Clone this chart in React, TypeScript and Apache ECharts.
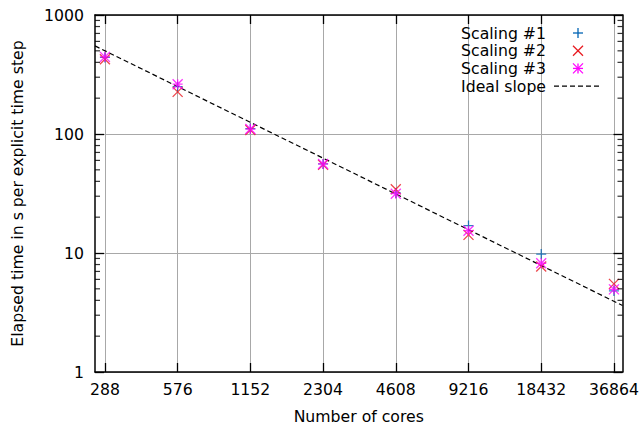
import React, { useEffect, useRef } from "react";
import * as echarts from "echarts";

const cores = [288, 576, 1152, 2304, 4608, 9216, 18432, 36864];
const scaling1 = [440, 250, 111, 56, 32, 17.0, 9.8, 4.8];
const scaling2 = [425, 226, 108, 55, 34.3, 14.2, 7.7, 5.5];
const scaling3 = [445, 262, 110, 56, 31.5, 15.4, 8.2, 4.95];
const idealCores = [262, 40000];
const idealTime = [550, 3.62];
const xTickCores = [288, 576, 1152, 2304, 4608, 9216, 18432, 36864];
const yTickValues = [1, 10, 100, 1000];
const yMinorTickValues = [2, 3, 4, 5, 6, 7, 8, 9, 20, 30, 40, 50, 60, 70, 80, 90, 200, 300, 400, 500, 600, 700, 800, 900];
const xRange = [262, 40000];
const yRange = [1, 1000];

const FONT = "DejaVu Sans";
const FS = 15.7;
const BLUE = "#0064b4";
const RED = "#e8191f";
const MAGENTA = "#ff00ff";

const lx = (c: number) => Math.log2(c / xTickCores[0]);
const ly = (v: number) => Math.log10(v);

const PLUS = "path://M5,0L5,10M0,5L10,5";
const CROSS = "path://M0,0L10,10M0,10L10,0";
const STAR = "path://M5,0L5,10M0,5L10,5M0,0L10,10M0,10L10,0";

export default function App() {
  const ref = useRef<HTMLDivElement>(null);
  useEffect(() => {
    if (!ref.current) return;
    const chart = echarts.init(ref.current, null, { renderer: "svg" });
    const xMajor = xTickCores.map(lx);
    const xMin = lx(xRange[0]);
    const xMax = lx(xRange[1]);
    const yMin = ly(yRange[0]);
    const yMax = ly(yRange[1]);
    const textStyle = { fontFamily: FONT, fontSize: FS, color: "#000" };
    const border = { show: true, onZero: false, lineStyle: { color: "#000", width: 1.5 } };

    const baseX = { type: "value" as const, min: xMin, max: xMax, offset: 0, axisLine: border };
    const baseY = { type: "value" as const, min: yMin, max: yMax, interval: 1, offset: 0, axisLine: border };

    const scatter = (name: string, vals: number[], symbol: string, color: string) => ({
      name,
      type: "scatter",
      xAxisIndex: 0,
      yAxisIndex: 0,
      symbol,
      symbolSize: 10,
      itemStyle: { color: "rgba(0,0,0,0)", borderColor: color, borderWidth: 1.3 },
      data: cores.map((c, i) => [lx(c), ly(vals[i])]),
      z: 5,
    });

    const minorTicks = (name: string, xv: number, dir: number) => ({
      name,
      type: "scatter",
      xAxisIndex: 0,
      yAxisIndex: 0,
      silent: true,
      clip: false,
      symbol: "rect",
      symbolSize: [5, 1.2],
      symbolOffset: [dir * 2.5, 0],
      itemStyle: { color: "#000" },
      data: yMinorTickValues.map((v) => [xv, ly(v)]),
      z: 6,
    });

    const legendRows = [33, 50.7, 68.4, 86.1];
    const legendNames = ["Scaling #1", "Scaling #2", "Scaling #3", "Ideal slope"];
    const sx = 578;
    const h = 5;
    const lineEl = (x1: number, y1: number, x2: number, y2: number, color: string) => ({
      type: "line",
      shape: { x1, y1, x2, y2 },
      style: { stroke: color, lineWidth: 1.3 },
      z: 10,
    });
    const graphics: any[] = legendNames.map((n, i) => ({
      type: "text",
      x: 546,
      y: legendRows[i],
      style: {
        text: n,
        align: "right",
        verticalAlign: "middle",
        fontFamily: FONT,
        fontSize: FS,
        fill: "#000",
      },
      z: 10,
    }));
    graphics.push(
      lineEl(sx - h, legendRows[0], sx + h, legendRows[0], BLUE),
      lineEl(sx, legendRows[0] - h, sx, legendRows[0] + h, BLUE),
      lineEl(sx - h, legendRows[1] - h, sx + h, legendRows[1] + h, RED),
      lineEl(sx - h, legendRows[1] + h, sx + h, legendRows[1] - h, RED),
      lineEl(sx - h, legendRows[2], sx + h, legendRows[2], MAGENTA),
      lineEl(sx, legendRows[2] - h, sx, legendRows[2] + h, MAGENTA),
      lineEl(sx - h, legendRows[2] - h, sx + h, legendRows[2] + h, MAGENTA),
      lineEl(sx - h, legendRows[2] + h, sx + h, legendRows[2] - h, MAGENTA),
      {
        type: "line",
        shape: { x1: 554, y1: legendRows[3], x2: 602, y2: legendRows[3] },
        style: { stroke: "#000", lineWidth: 1.2, lineDash: [5, 3] },
        z: 10,
      }
    );

    chart.setOption({
      animation: false,
      backgroundColor: "#fff",
      textStyle: { fontFamily: FONT },
      grid: { left: 95, right: 21.5, top: 15, bottom: 52, containLabel: false, outerBoundsMode: "none" },
      xAxis: [
        {
          ...baseX,
          position: "bottom",
          name: "Number of cores",
          nameLocation: "middle",
          nameGap: 36,
          nameTextStyle: textStyle,
          axisTick: { show: true, inside: true, length: 9, customValues: xMajor, lineStyle: { color: "#000", width: 1.3 } },
          axisLabel: {
            show: true,
            margin: 9,
            customValues: xMajor,
            ...textStyle,
            formatter: (v: number) => String(Math.round(xTickCores[0] * Math.pow(2, v))),
          },
          splitLine: { show: true, lineStyle: { color: "#a8a8a8", width: 1 } },
        },
        {
          ...baseX,
          position: "top",
          axisTick: { show: true, inside: true, length: 9, customValues: xMajor, lineStyle: { color: "#000", width: 1.3 } },
          axisLabel: { show: false },
          splitLine: { show: false },
        },
      ],
      yAxis: [
        {
          ...baseY,
          position: "left",
          name: "Elapsed time in s per explicit time step",
          nameLocation: "middle",
          nameGap: 70,
          nameTextStyle: textStyle,
          axisTick: { show: true, inside: true, length: 9, lineStyle: { color: "#000", width: 1.3 } },
          axisLabel: {
            show: true,
            margin: 11,
            ...textStyle,
            formatter: (v: number) => String(Math.round(Math.pow(10, v))),
          },
          splitLine: { show: true, lineStyle: { color: "#a8a8a8", width: 1 } },
        },
        {
          ...baseY,
          position: "right",
          axisTick: { show: true, inside: true, length: 9, lineStyle: { color: "#000", width: 1.3 } },
          axisLabel: { show: false },
          splitLine: { show: false },
        },
      ],
      series: [
        minorTicks("minor ticks left", xMin, 1),
        minorTicks("minor ticks right", xMax, -1),
        {
          name: "Ideal slope",
          type: "line",
          xAxisIndex: 0,
          yAxisIndex: 0,
          symbol: "none",
          lineStyle: { color: "#000", width: 1.2, type: [5, 3] },
          data: idealCores.map((c, i) => [lx(c), ly(idealTime[i])]),
          z: 4,
        },
        scatter("Scaling #1", scaling1, PLUS, BLUE),
        scatter("Scaling #2", scaling2, CROSS, RED),
        scatter("Scaling #3", scaling3, STAR, MAGENTA),
      ],
      graphic: graphics,
    });
    return () => chart.dispose();
  }, []);
  return <div ref={ref} style={{ width: 644, height: 424, position: "absolute", left: 0, top: 0 }} />;
}
